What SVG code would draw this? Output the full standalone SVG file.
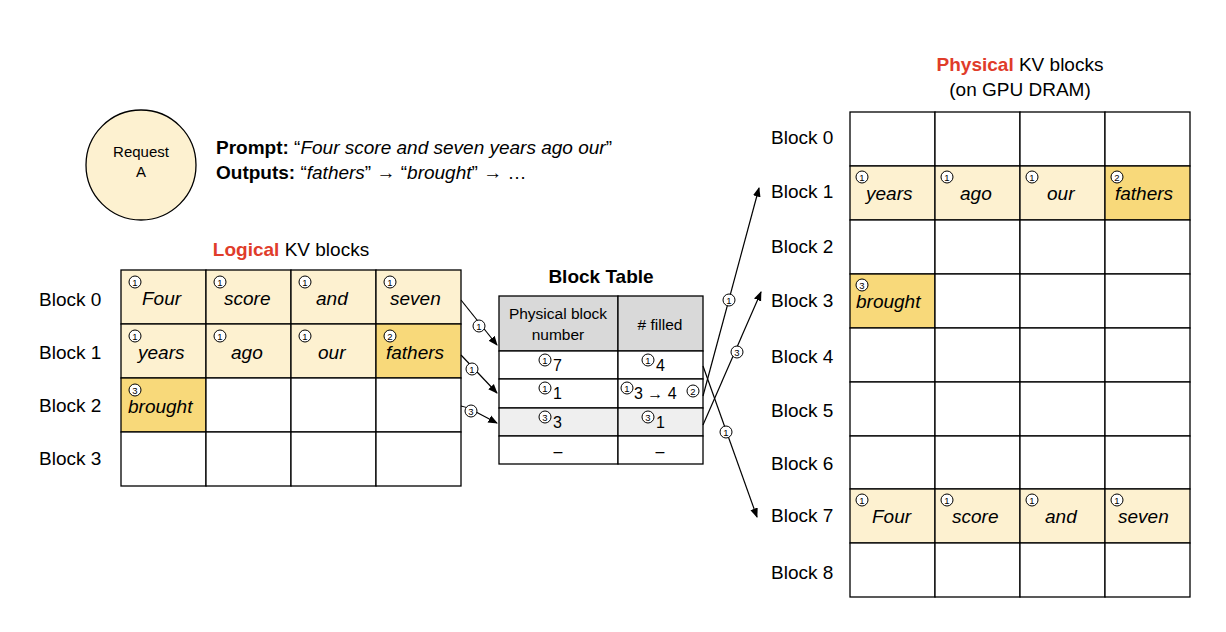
<svg xmlns="http://www.w3.org/2000/svg" width="1226" height="632" viewBox="0 0 1226 632">
<defs>
<style>
text{font-family:"Liberation Sans",Arial,sans-serif;fill:#000}
.lbl{font-size:19px}
.w{font-size:19px;font-style:italic}
.c{fill:#fff;stroke:#000;stroke-width:1}
.cn{font-size:9.5px;text-anchor:middle}
.cell{stroke:#000;stroke-width:1.3}
.lt{fill:#fdf1d0}.dk{fill:#f8d97a}.wh{fill:#fff}
.ln{stroke:#000;stroke-width:1.2;fill:none}
</style>
<marker id="ah" viewBox="0 0 10 10" refX="9" refY="5" markerWidth="8" markerHeight="8" orient="auto"><path d="M0,1 L10,5 L0,9 z" fill="#000"/></marker>
<symbol id="c1" overflow="visible"><circle r="6" class="c"/><text class="cn" y="3.5">1</text></symbol>
<symbol id="c2" overflow="visible"><circle r="6" class="c"/><text class="cn" y="3.5">2</text></symbol>
<symbol id="c3" overflow="visible"><circle r="6" class="c"/><text class="cn" y="3.5">3</text></symbol>
</defs>
<rect width="1226" height="632" fill="#fff"/>

<g id="request">
<circle cx="141" cy="165" r="55" fill="#fdf1d0" stroke="#000" stroke-width="1.3"/>
<text x="141" y="157" font-size="15" text-anchor="middle">Request</text>
<text x="141" y="177" font-size="15" text-anchor="middle">A</text>
<text x="216" y="154" font-size="19"><tspan font-weight="bold">Prompt:</tspan> “<tspan font-style="italic">Four score and seven years ago our</tspan>”</text>
<text x="216" y="179" font-size="19"><tspan font-weight="bold">Outputs:</tspan> “<tspan font-style="italic">fathers</tspan>” → “<tspan font-style="italic">brought</tspan>” → …</text>
</g>

<g id="logical">
<text x="291" y="256" class="lbl" text-anchor="middle"><tspan fill="#e03c2a" font-weight="bold">Logical</tspan> KV blocks</text>
<g class="cell">
<rect x="121" y="270" width="85" height="54" class="lt"/><rect x="206" y="270" width="85" height="54" class="lt"/><rect x="291" y="270" width="85" height="54" class="lt"/><rect x="376" y="270" width="85" height="54" class="lt"/>
<rect x="121" y="324" width="85" height="54" class="lt"/><rect x="206" y="324" width="85" height="54" class="lt"/><rect x="291" y="324" width="85" height="54" class="lt"/><rect x="376" y="324" width="85" height="54" class="dk"/>
<rect x="121" y="378" width="85" height="54" class="dk"/><rect x="206" y="378" width="85" height="54" class="wh"/><rect x="291" y="378" width="85" height="54" class="wh"/><rect x="376" y="378" width="85" height="54" class="wh"/>
<rect x="121" y="432" width="85" height="54" class="wh"/><rect x="206" y="432" width="85" height="54" class="wh"/><rect x="291" y="432" width="85" height="54" class="wh"/><rect x="376" y="432" width="85" height="54" class="wh"/>
</g>
<text class="lbl" x="39" y="306">Block 0</text><text class="lbl" x="39" y="359">Block 1</text><text class="lbl" x="39" y="412">Block 2</text><text class="lbl" x="39" y="465">Block 3</text>
<use href="#c1" x="135" y="282"/><text class="w" x="142" y="305">Four</text>
<use href="#c1" x="220" y="282"/><text class="w" x="224" y="305">score</text>
<use href="#c1" x="305" y="282"/><text class="w" x="316" y="305">and</text>
<use href="#c1" x="390" y="282"/><text class="w" x="390" y="305">seven</text>
<use href="#c1" x="135" y="336"/><text class="w" x="138" y="359">years</text>
<use href="#c1" x="220" y="336"/><text class="w" x="231" y="359">ago</text>
<use href="#c1" x="305" y="336"/><text class="w" x="318" y="359">our</text>
<use href="#c2" x="390" y="336"/><text class="w" x="386" y="359">fathers</text>
<use href="#c3" x="135" y="390"/><text class="w" x="128" y="413">brought</text>
</g>

<g id="blocktable">
<text x="601" y="283" font-size="19" font-weight="bold" text-anchor="middle">Block Table</text>
<g class="cell">
<rect x="499" y="296" width="119" height="55" fill="#d9d9d9"/><rect x="618" y="296" width="85" height="55" fill="#d9d9d9"/>
<rect x="499" y="351" width="119" height="28" fill="#fff"/><rect x="618" y="351" width="85" height="28" fill="#fff"/>
<rect x="499" y="379" width="119" height="29" fill="#fff"/><rect x="618" y="379" width="85" height="29" fill="#fff"/>
<rect x="499" y="408" width="119" height="28" fill="#efefef"/><rect x="618" y="408" width="85" height="28" fill="#efefef"/>
<rect x="499" y="436" width="119" height="28" fill="#fff"/><rect x="618" y="436" width="85" height="28" fill="#fff"/>
</g>
<text x="558" y="319" font-size="15.5" text-anchor="middle">Physical block</text>
<text x="558" y="340" font-size="15.5" text-anchor="middle">number</text>
<text x="660" y="330" font-size="15.5" text-anchor="middle">#  filled</text>
<use href="#c1" x="545" y="360"/><text x="553" y="371" font-size="16">7</text>
<use href="#c1" x="648" y="360"/><text x="656" y="371" font-size="16">4</text>
<use href="#c1" x="545" y="388"/><text x="553" y="399" font-size="16">1</text>
<use href="#c1" x="627" y="388"/><text x="634" y="399" font-size="16">3 → 4</text><use href="#c2" x="693" y="391"/>
<use href="#c3" x="545" y="417"/><text x="553" y="428" font-size="16">3</text>
<use href="#c3" x="648" y="417"/><text x="656" y="428" font-size="16">1</text>
<text x="558" y="457" font-size="16" text-anchor="middle">–</text>
<text x="660" y="457" font-size="16" text-anchor="middle">–</text>
</g>

<g id="physical">
<text x="1020" y="71" class="lbl" text-anchor="middle"><tspan fill="#e03c2a" font-weight="bold">Physical</tspan> KV blocks</text>
<text x="1020" y="96" class="lbl" text-anchor="middle">(on GPU DRAM)</text>
<g class="cell">
<rect x="850" y="112" width="85" height="54" class="wh"/><rect x="935" y="112" width="85" height="54" class="wh"/><rect x="1020" y="112" width="85" height="54" class="wh"/><rect x="1105" y="112" width="85" height="54" class="wh"/>
<rect x="850" y="166" width="85" height="54" class="lt"/><rect x="935" y="166" width="85" height="54" class="lt"/><rect x="1020" y="166" width="85" height="54" class="lt"/><rect x="1105" y="166" width="85" height="54" class="dk"/>
<rect x="850" y="220" width="85" height="54" class="wh"/><rect x="935" y="220" width="85" height="54" class="wh"/><rect x="1020" y="220" width="85" height="54" class="wh"/><rect x="1105" y="220" width="85" height="54" class="wh"/>
<rect x="850" y="274" width="85" height="54" class="dk"/><rect x="935" y="274" width="85" height="54" class="wh"/><rect x="1020" y="274" width="85" height="54" class="wh"/><rect x="1105" y="274" width="85" height="54" class="wh"/>
<rect x="850" y="328" width="85" height="54" class="wh"/><rect x="935" y="328" width="85" height="54" class="wh"/><rect x="1020" y="328" width="85" height="54" class="wh"/><rect x="1105" y="328" width="85" height="54" class="wh"/>
<rect x="850" y="382" width="85" height="54" class="wh"/><rect x="935" y="382" width="85" height="54" class="wh"/><rect x="1020" y="382" width="85" height="54" class="wh"/><rect x="1105" y="382" width="85" height="54" class="wh"/>
<rect x="850" y="436" width="85" height="53" class="wh"/><rect x="935" y="436" width="85" height="53" class="wh"/><rect x="1020" y="436" width="85" height="53" class="wh"/><rect x="1105" y="436" width="85" height="53" class="wh"/>
<rect x="850" y="489" width="85" height="54" class="lt"/><rect x="935" y="489" width="85" height="54" class="lt"/><rect x="1020" y="489" width="85" height="54" class="lt"/><rect x="1105" y="489" width="85" height="54" class="lt"/>
<rect x="850" y="543" width="85" height="54" class="wh"/><rect x="935" y="543" width="85" height="54" class="wh"/><rect x="1020" y="543" width="85" height="54" class="wh"/><rect x="1105" y="543" width="85" height="54" class="wh"/>
</g>
<text class="lbl" x="771" y="144">Block 0</text><text class="lbl" x="771" y="198">Block 1</text><text class="lbl" x="771" y="253">Block 2</text>
<text class="lbl" x="771" y="307">Block 3</text><text class="lbl" x="771" y="363">Block 4</text><text class="lbl" x="771" y="417">Block 5</text>
<text class="lbl" x="771" y="470">Block 6</text><text class="lbl" x="771" y="522">Block 7</text><text class="lbl" x="771" y="579">Block 8</text>
<use href="#c1" x="862" y="177"/><text class="w" x="866" y="200">years</text>
<use href="#c1" x="947" y="177"/><text class="w" x="960" y="200">ago</text>
<use href="#c1" x="1032" y="177"/><text class="w" x="1047" y="200">our</text>
<use href="#c2" x="1117" y="177"/><text class="w" x="1115" y="200">fathers</text>
<use href="#c3" x="862" y="285"/><text class="w" x="856" y="308">brought</text>
<use href="#c1" x="862" y="500"/><text class="w" x="872" y="523">Four</text>
<use href="#c1" x="947" y="500"/><text class="w" x="952" y="523">score</text>
<use href="#c1" x="1032" y="500"/><text class="w" x="1045" y="523">and</text>
<use href="#c1" x="1117" y="500"/><text class="w" x="1118" y="523">seven</text>
</g>

<g id="connectors">
<path class="ln" d="M461,300 L497,345" marker-end="url(#ah)"/>
<path class="ln" d="M461,355 L497,393" marker-end="url(#ah)"/>
<path class="ln" d="M461,406 Q470,408 476,412 L497,423" marker-end="url(#ah)"/>
<path class="ln" d="M703,366 L757,517" marker-end="url(#ah)"/>
<path class="ln" d="M703,396 L759,188" marker-end="url(#ah)"/>
<path class="ln" d="M703,425 L761,292" marker-end="url(#ah)"/>
<use href="#c1" x="479" y="326"/>
<use href="#c1" x="472" y="369"/>
<use href="#c3" x="471" y="411"/>
<use href="#c1" x="729" y="300"/>
<use href="#c3" x="737" y="352"/>
<use href="#c1" x="726" y="432"/>
</g>
</svg>
